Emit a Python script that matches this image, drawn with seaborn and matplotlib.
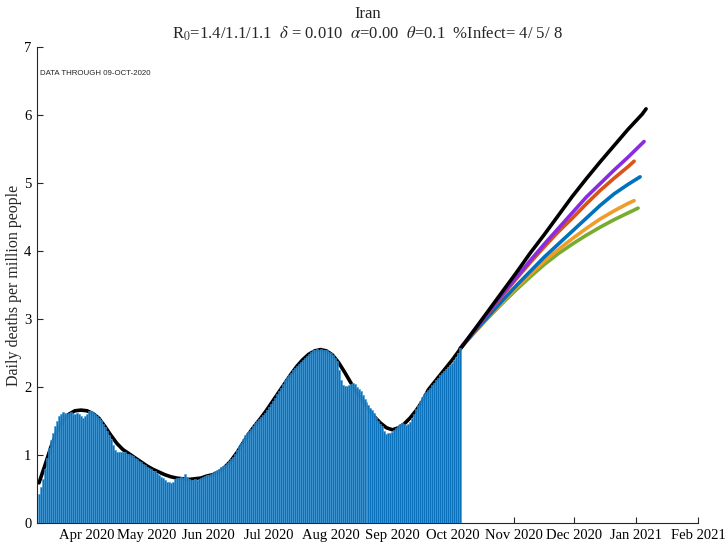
import pandas as pd
import matplotlib
matplotlib.use('Agg')
import matplotlib.pyplot as plt
import matplotlib.dates as mdates
import seaborn as sns

# daily deaths per million, 08-Mar-2020 .. 05-Oct-2020
days = pd.date_range('2020-03-08', '2020-10-05', freq='D')
deaths = [
    # Mar 8-31
    0.43, 0.53, 0.65, 0.80, 0.95, 1.10, 1.22, 1.32, 1.42, 1.50, 1.57, 1.61,
    1.63, 1.62, 1.60, 1.62, 1.63, 1.61, 1.60, 1.62, 1.61, 1.58, 1.55, 1.57,
    # Apr
    1.60, 1.64, 1.65, 1.63, 1.61, 1.58, 1.55, 1.51, 1.46, 1.41, 1.36, 1.30,
    1.24, 1.14, 1.07, 1.05, 1.05, 1.04, 1.05, 1.04, 1.02, 1.01, 1.00, 0.98,
    0.96, 0.94, 0.91, 0.89, 0.87, 0.85,
    # May
    0.83, 0.81, 0.79, 0.77, 0.76, 0.74, 0.71, 0.68, 0.66, 0.63, 0.61, 0.60,
    0.59, 0.61, 0.64, 0.66, 0.66, 0.67, 0.66, 0.72, 0.67, 0.64, 0.63, 0.63,
    0.64, 0.63, 0.64, 0.66, 0.68, 0.69, 0.70,
    # Jun
    0.71, 0.72, 0.74, 0.76, 0.78, 0.80, 0.82, 0.84, 0.86, 0.88, 0.91, 0.94,
    0.97, 1.02, 1.08, 1.13, 1.17, 1.23, 1.29, 1.32, 1.35, 1.38, 1.43, 1.47,
    1.50, 1.53, 1.56, 1.59, 1.62, 1.66,
    # Jul
    1.70, 1.75, 1.80, 1.84, 1.89, 1.94, 1.99, 2.05, 2.10, 2.14, 2.18, 2.21,
    2.25, 2.28, 2.31, 2.34, 2.37, 2.40, 2.43, 2.46, 2.49, 2.52, 2.54, 2.55,
    2.56, 2.55, 2.56, 2.55, 2.54, 2.54, 2.52,
    # Aug
    2.50, 2.47, 2.43, 2.38, 2.25, 2.10, 2.03, 2.02, 2.02, 2.03, 2.05, 2.06,
    2.04, 2.00, 1.97, 1.94, 1.88, 1.83, 1.78, 1.73, 1.69, 1.66, 1.62, 1.56,
    1.50, 1.46, 1.42, 1.36, 1.31, 1.32, 1.33,
    # Sep
    1.34, 1.37, 1.40, 1.42, 1.45, 1.47, 1.45, 1.44, 1.46, 1.49, 1.54, 1.60,
    1.67, 1.74, 1.80, 1.86, 1.89, 1.92, 1.95, 1.98, 2.03, 2.06, 2.10, 2.13,
    2.17, 2.20, 2.23, 2.26, 2.29, 2.32,
    # Oct 1-5
    2.35, 2.39, 2.44, 2.50, 2.57,
]

# black model fit (history + central projection)
fit_dates = pd.to_datetime([
    '2020-03-08', '2020-03-11', '2020-03-14', '2020-03-17', '2020-03-20',
    '2020-03-23', '2020-03-26', '2020-03-29', '2020-04-01', '2020-04-04',
    '2020-04-07', '2020-04-10', '2020-04-13', '2020-04-16', '2020-04-19',
    '2020-04-22', '2020-04-25', '2020-04-28', '2020-05-01', '2020-05-04',
    '2020-05-07', '2020-05-10', '2020-05-13', '2020-05-16', '2020-05-19',
    '2020-05-22', '2020-05-25', '2020-05-28', '2020-05-31', '2020-06-03',
    '2020-06-06', '2020-06-09', '2020-06-12', '2020-06-15', '2020-06-18',
    '2020-06-21', '2020-06-24', '2020-06-27', '2020-06-30', '2020-07-03',
    '2020-07-06', '2020-07-09', '2020-07-12', '2020-07-15', '2020-07-18',
    '2020-07-21', '2020-07-24', '2020-07-27', '2020-07-30', '2020-08-02',
    '2020-08-05', '2020-08-08', '2020-08-11', '2020-08-14', '2020-08-17',
    '2020-08-20', '2020-08-23', '2020-08-26', '2020-08-29', '2020-09-01',
    '2020-09-04', '2020-09-07', '2020-09-10', '2020-09-13', '2020-09-16',
    '2020-09-19', '2020-09-22', '2020-09-25', '2020-09-28', '2020-10-01',
    '2020-10-05', '2020-10-12', '2020-10-19', '2020-10-26', '2020-11-02',
    '2020-11-09', '2020-11-16', '2020-11-23', '2020-11-30', '2020-12-07',
    '2020-12-14', '2020-12-21', '2020-12-28', '2021-01-04', '2021-01-06',
])
fit_vals = [
    0.59, 0.85, 1.12, 1.35, 1.50, 1.60, 1.65, 1.66, 1.65, 1.61,
    1.54, 1.42, 1.29, 1.17, 1.08, 1.02, 0.96, 0.90, 0.84, 0.79,
    0.75, 0.71, 0.68, 0.66, 0.65, 0.64, 0.65, 0.66, 0.69, 0.71,
    0.75, 0.82, 0.91, 1.03, 1.17, 1.31, 1.43, 1.54, 1.66, 1.79,
    1.92, 2.05, 2.18, 2.30, 2.40, 2.48, 2.53, 2.55, 2.53, 2.47,
    2.36, 2.22, 2.07, 1.92, 1.80, 1.67, 1.56, 1.47, 1.40, 1.37,
    1.40, 1.46, 1.55, 1.66, 1.79, 1.96, 2.07, 2.18, 2.29, 2.40,
    2.56, 2.84, 3.12, 3.40, 3.68, 3.97, 4.24, 4.52, 4.80, 5.06,
    5.31, 5.55, 5.79, 6.01, 6.09,
]

# alternative projections, weekly from 05-Oct plus a final point
proj_weeks = list(pd.date_range('2020-10-05', '2020-12-28', freq='7D'))

purple_end = '2021-01-05'
purple_vals = [2.57, 2.83, 3.10, 3.36, 3.61, 3.86, 4.10, 4.33, 4.56, 4.79, 4.99, 5.19, 5.38, 5.61]
red_end = '2020-12-31'
red_vals = [2.57, 2.83, 3.09, 3.34, 3.59, 3.83, 4.06, 4.28, 4.48, 4.69, 4.89, 5.07, 5.24, 5.32]
blue_end = '2021-01-03'
blue_vals = [2.57, 2.81, 3.04, 3.27, 3.49, 3.70, 3.91, 4.10, 4.29, 4.48, 4.67, 4.84, 4.98, 5.09]
orange_end = '2020-12-31'
orange_vals = [2.57, 2.80, 3.03, 3.25, 3.46, 3.66, 3.85, 4.02, 4.18, 4.33, 4.47, 4.59, 4.70, 4.74]
green_end = '2021-01-02'
green_vals = [2.57, 2.80, 3.02, 3.23, 3.43, 3.62, 3.80, 3.96, 4.10, 4.23, 4.35, 4.46, 4.56, 4.63]

sns.set_style('ticks')
plt.rcParams['font.family'] = ['Liberation Serif', 'DejaVu Serif']
plt.rcParams['mathtext.fontset'] = 'stix'

fig = plt.figure(figsize=(7.27, 5.45), dpi=100)
ax = fig.add_axes([0.0509, 0.0404, 0.9092, 0.8734])

sns.lineplot(x=fit_dates, y=fit_vals, color='black', lw=2.6, ax=ax, zorder=2)

projs = [
    (green_end, green_vals, '#77AC30'),
    (orange_end, orange_vals, '#EF9D2A'),
    (blue_end, blue_vals, '#0072BD'),
    (red_end, red_vals, '#D95319'),
    (purple_end, purple_vals, '#8A2BE2'),
]
for end, vals, col in projs:
    d = proj_weeks + [pd.Timestamp(end)]
    sns.lineplot(x=d, y=vals, color=col, lw=2.6, ax=ax, zorder=1.5)

ax.bar(days, deaths, width=1.0, color='#0b72bb', edgecolor='#4598d4',
       linewidth=0.4, zorder=3)

ax.set_xlim(pd.Timestamp('2020-03-07'), pd.Timestamp('2021-02-01'))
ax.set_ylim(0, 7)
ax.set_yticks(range(8))
ax.xaxis.set_major_locator(mdates.MonthLocator())
ax.xaxis.set_major_formatter(mdates.DateFormatter('%b %Y'))

sns.despine(ax=ax)
for s in ['left', 'bottom']:
    ax.spines[s].set_color('#262626')
    ax.spines[s].set_linewidth(0.8)
ax.tick_params(direction='in', length=4.5, width=0.8, color='#262626',
               labelsize=10.5, labelcolor='black', pad=4)

ax.set_ylabel('Daily deaths per million people', fontsize=11.5)
ax.yaxis.set_label_coords(-0.023, 0.5)
ax.set_xlabel('')
ax.set_title('Iran\nR$_0$=1.4/1.1/1.1  $\\delta$ = 0.010  $\\alpha$=0.00  '
             '$\\theta$=0.1  %Infect= 4/ 5/ 8', fontsize=12, pad=6)

ax.text(0.004, 0.945, 'DATA THROUGH 09-OCT-2020', transform=ax.transAxes,
        fontsize=5.7, family=['Liberation Sans', 'DejaVu Sans'], va='center')

fig.savefig('out.png', dpi=100)
